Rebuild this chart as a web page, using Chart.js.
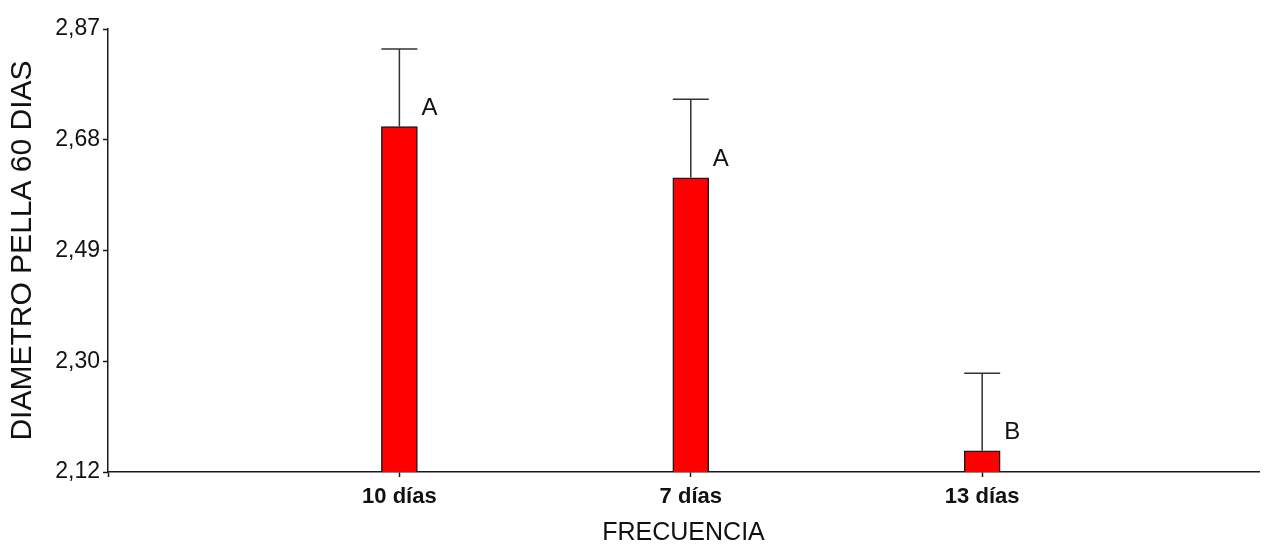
<!DOCTYPE html>
<html>
<head>
<meta charset="utf-8">
<script src="https://cdn.jsdelivr.net/npm/chart.js@4/dist/chart.umd.min.js"></script>
<style>
  html, body { margin: 0; padding: 0; background: #ffffff; }
  #wrap { width: 1266px; height: 545px; position: relative; }
</style>
</head>
<body>
<div id="wrap"><canvas id="c"></canvas></div>
<script>
// Diámetro de pella a los 60 días según frecuencia de riego
const categories = ['10 días', '7 días', '13 días'];
const means = [2.705, 2.618, 2.156];
const errors = [0.131, 0.133, 0.131];
const letters = ['A', 'A', 'B'];

// Eje Y: 2,12 a 2,87 en cuatro intervalos iguales
const yMin = 2.12;
const yMax = 2.87;
const yTickLabels = ['2,12', '2,30', '2,49', '2,68', '2,87'];

const SANS = "'Liberation Sans', Arial, sans-serif";
const INK = '#1a1a1a';

const points = categories.map((c, i) => ({ x: i + 1, y: means[i] }));

// Barras de error (solo hacia arriba) y letras de significancia
const annotate = {
  id: 'annotate',
  afterDatasetsDraw(chart) {
    const { ctx, scales } = chart;
    const meta = chart.getDatasetMeta(0);
    ctx.save();
    meta.data.forEach((bar, i) => {
      const x = bar.x;
      const half = bar.width / 2;
      const top = scales.y.getPixelForValue(means[i]);
      const errTop = scales.y.getPixelForValue(means[i] + errors[i]);
      ctx.strokeStyle = '#333333';
      ctx.lineWidth = 1.5;
      ctx.beginPath();
      ctx.moveTo(x, top);
      ctx.lineTo(x, errTop);
      ctx.moveTo(x - half, errTop);
      ctx.lineTo(x + half, errTop);
      ctx.stroke();

      ctx.fillStyle = '#111111';
      ctx.font = '24px ' + SANS;
      ctx.textAlign = 'left';
      ctx.textBaseline = 'middle';
      ctx.fillText(letters[i], x + half + 4, top - 18);
    });
    ctx.restore();
  }
};

new Chart(document.getElementById('c'), {
  type: 'bar',
  data: {
    datasets: [{
      data: points,
      backgroundColor: '#ff0000',
      borderColor: INK,
      borderWidth: 1.5,
      borderSkipped: 'bottom',
      barThickness: 36
    }]
  },
  options: {
    responsive: true,
    maintainAspectRatio: false,
    animation: false,
    layout: { padding: { top: 29, right: 7, left: 0, bottom: 0 } },
    plugins: {
      legend: { display: false },
      tooltip: { enabled: false }
    },
    scales: {
      x: {
        type: 'linear',
        offset: false,
        min: 0,
        max: 3.95,
        afterBuildTicks(scale) {
          scale.ticks = [0, 1, 2, 3].map(v => ({ value: v }));
        },
        afterFit(scale) { scale.height = 73; },
        ticks: {
          color: '#111111',
          font: { family: SANS, size: 22, weight: 'bold' },
          padding: 7,
          maxRotation: 0,
          autoSkip: false,
          callback: (v) => (v >= 1 && v <= categories.length) ? categories[v - 1] : ''
        },
        grid: {
          display: true,
          offset: false,
          drawOnChartArea: false,
          drawTicks: true,
          tickLength: 5,
          tickWidth: 1.5,
          color: INK
        },
        border: { display: true, color: INK, width: 1.5 },
        title: {
          display: true,
          text: 'FRECUENCIA',
          color: '#111111',
          font: { family: SANS, size: 25, lineHeight: 1 },
          padding: { top: 0, bottom: -1 }
        }
      },
      y: {
        min: yMin,
        max: yMax,
        afterBuildTicks(scale) {
          const step = (yMax - yMin) / (yTickLabels.length - 1);
          scale.ticks = yTickLabels.map((_, i) => ({ value: yMin + step * i }));
        },
        afterFit(scale) { scale.width = 108; },
        ticks: {
          color: '#111111',
          font: { family: SANS, size: 23 },
          padding: 3,
          callback: (v, i) => yTickLabels[i]
        },
        grid: {
          display: true,
          drawOnChartArea: false,
          drawTicks: true,
          tickLength: 5,
          tickWidth: 1.5,
          color: INK
        },
        border: { display: true, color: INK, width: 1.5 },
        title: {
          display: true,
          text: 'DIAMETRO PELLA 60 DIAS',
          color: '#111111',
          font: { family: SANS, size: 30, lineHeight: 1 },
          padding: { top: 8, bottom: 0 }
        }
      }
    }
  },
  plugins: [annotate]
});
</script>
</body>
</html>
